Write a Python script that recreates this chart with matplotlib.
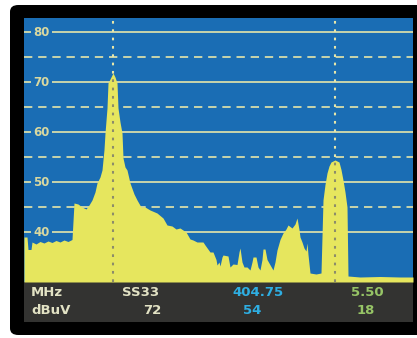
import matplotlib.pyplot as plt
from matplotlib.patches import FancyBboxPatch, Rectangle

# spectrum trace (column, level in dBuV)
cols = [24, 27, 28, 31, 32, 36, 40, 44, 48, 52, 56, 60, 64, 68, 72,
        74, 78, 82, 86, 89, 92, 95, 97, 100, 102, 104, 105, 107, 108, 111,
        113, 115, 117, 118, 120, 122, 123, 125, 127, 130, 134, 137, 141, 145,
        150, 157, 163, 167, 172, 176, 180, 186, 190, 193, 197, 203, 205, 210,
        213, 216, 217, 219, 220, 222, 223, 228, 230, 233, 237, 239, 240, 242,
        244, 247, 250, 252, 253, 256, 258, 260, 262, 263, 265, 267, 269, 273,
        275, 277, 280, 283, 286, 288, 292, 295, 297, 299, 300, 302, 304,
        306, 307, 308, 310, 316, 321, 323, 325, 327, 329, 331, 335, 339, 341,
        343, 345, 347, 348, 360, 380, 400, 413]
levels = [39.0, 39.0, 36.5, 36.5, 38.0, 37.6, 38.1, 37.8, 38.2, 37.9, 38.3,
          38.0, 38.4, 38.1, 38.5, 45.8, 45.6, 45.0, 44.6, 45.4, 46.4, 48.0,
          49.8, 51.0, 52.4, 56.5, 59.8, 64.8, 69.8, 71.0, 71.8, 71.0, 69.8,
          64.8, 62.0, 59.8, 54.8, 53.0, 52.4, 49.8, 47.6, 46.4, 45.0, 45.0,
          44.4, 43.8, 42.8, 41.4, 41.2, 40.6, 40.8, 40.0, 38.6, 38.4, 38.0,
          38.0, 37.4, 36.0, 36.0, 34.5, 33.4, 34.0, 33.2, 35.0, 35.4, 35.2,
          33.0, 33.6, 33.5, 36.0, 36.8, 34.0, 33.0, 33.0, 32.4, 34.0, 35.0,
          35.0, 33.0, 32.4, 34.5, 36.6, 36.6, 34.5, 33.8, 32.4, 34.0, 36.4,
          38.5, 39.8, 40.6, 41.4, 40.8, 41.6, 42.8, 40.5, 39.0, 38.0, 36.8,
          36.2, 37.8, 35.5, 31.8, 31.6, 31.8, 46.4, 49.5, 51.8, 53.2, 54.0,
          54.4, 54.0, 52.5, 50.4, 48.0, 45.0, 31.2, 31.0, 31.1, 31.0, 31.0]
markers = [113, 335]
grid_major = [40, 50, 60, 70, 80]
grid_minor = [45, 55, 65, 75]

row1 = [("MHz", 31, "left", "#e2e2c4"), ("SS33", 122, "left", "#e2e2c4"),
        ("404.75", 258, "center", "#2eaee2"), ("5.50", 367, "center", "#96c466")]
row2 = [("dBuV", 31, "left", "#e2e2c4"), ("72", 161, "right", "#e2e2c4"),
        ("54", 252, "center", "#2eaee2"), ("18", 366, "center", "#96c466")]

W, H = 417, 338
blue = "#1a6db4"
yellow = "#e6e65e"
pale = "#e6e6aa"

fig = plt.figure(figsize=(W / 100, H / 100), dpi=100, facecolor="white")

# black instrument frame
fig.patches.append(FancyBboxPatch((10 / W, 3 / H), 420 / W, 330 / H,
                                  boxstyle="round,pad=0,rounding_size=0.02",
                                  transform=fig.transFigure, facecolor="black",
                                  edgecolor="none", zorder=-2))
# info bar
fig.patches.append(Rectangle((24 / W, 1 - 322 / H), 389 / W, 40 / H,
                             transform=fig.transFigure, facecolor="#333331",
                             edgecolor="none", zorder=-1))

ax = fig.add_axes([24 / W, 1 - 282 / H, 389 / W, 264 / H])
ax.set_facecolor(blue)
ax.set_xlim(24, 413)
ax.set_ylim(30, 82.8)
ax.set_xticks([])
ax.set_yticks([])
for s in ax.spines.values():
    s.set_visible(False)

for g in grid_major:
    ax.axhline(g, color=pale, lw=1.2, zorder=1)
    ax.text(41.5, g, str(g), color="#d8d8a0", fontsize=8.5, fontweight="bold",
            ha="center", va="center", zorder=2,
            bbox=dict(facecolor=blue, edgecolor="none", pad=1.5))
for g in grid_minor:
    ax.axhline(g, color=pale, lw=1.2, dashes=(5, 3.5), zorder=1)

for m in markers:
    ax.axvline(m, color=pale, lw=1.5, dashes=(1.3, 2.7), zorder=1.5)

fill = ax.fill_between(cols, 30, levels, color=yellow, lw=0, zorder=3)
clip = fill.get_paths()[0]
for m in markers:
    ln = ax.axvline(m, color="#8c8c6a", lw=1.5, dashes=(1.3, 2.7), zorder=4)
    ln.set_clip_path(clip, transform=ax.transData)

for (txt, x, ha, c) in row1:
    fig.text(x / W, 1 - 293 / H, txt, color=c, fontsize=9.5, fontweight="bold",
             ha=ha, va="center", zorder=5)
for (txt, x, ha, c) in row2:
    fig.text(x / W, 1 - 311 / H, txt, color=c, fontsize=9.5, fontweight="bold",
             ha=ha, va="center", zorder=5)

fig.savefig("out.png", dpi=100, facecolor="white")
